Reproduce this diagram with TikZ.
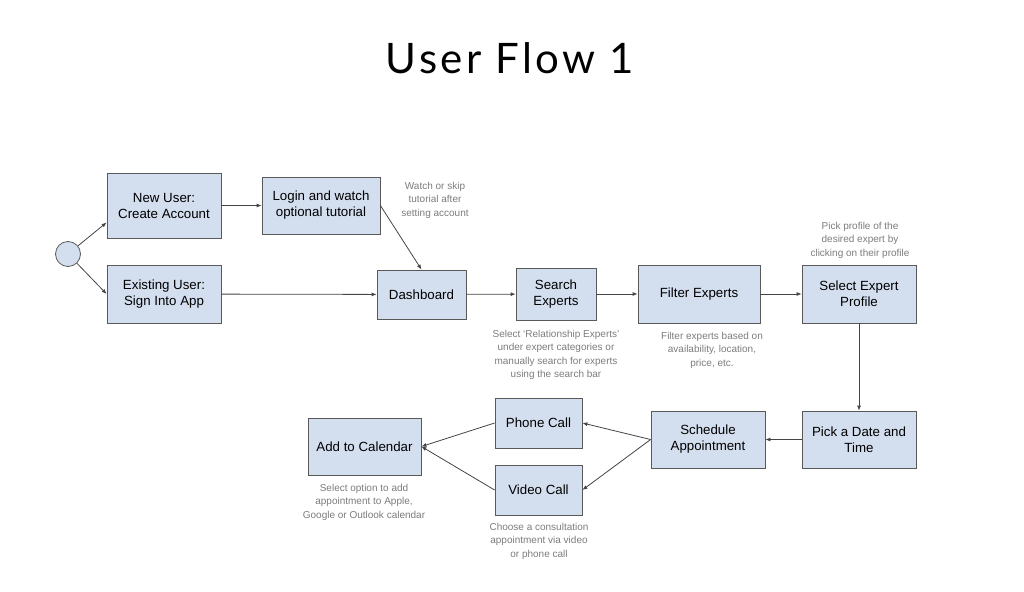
\documentclass[tikz,border=0pt]{standalone}
\usepackage{fontspec}
\setmainfont{Liberation Sans}
\newfontfamily\titlefont[LetterSpace=8]{Lato}
\usetikzlibrary{arrows.meta}
\definecolor{boxfill}{HTML}{D3DEEF}
\definecolor{boxline}{HTML}{595959}
\definecolor{notegray}{HTML}{7C7C7C}
\definecolor{linegray}{HTML}{444444}

\begin{document}
\begin{tikzpicture}
      [x=1pt,y=-1pt,every node/.style={align=center, font=\fontsize{13.3}{16}\selectfont},
       box/.style={draw=boxline, fill=boxfill, line width=0.8pt, inner sep=0pt, minimum width=114pt, minimum height=58pt},
       note/.style={text=notegray, font=\fontsize{10}{13.5}\selectfont},
       flow/.style={draw=linegray, line width=0.8pt, -{Latex[length=5pt,width=4pt]}}]
    \useasboundingbox (0,0) rectangle (1024,591);

    \node[font=\titlefont\fontsize{42}{48}\selectfont] (title) at (510,58) {User Flow 1};

    \node[circle, draw=boxline, fill=boxfill, line width=0.8pt, minimum size=25pt, inner sep=0pt] (start) at (68,254) {};
    \node[box, minimum height=65pt] (newuser) at (164,205.5) {New User:\\Create Account};
    \node[box, minimum width=118pt, minimum height=57pt] (login) at (321,205.5) {Login and watch\\optional tutorial};
    \node[box] (existing) at (164,294) {Existing User:\\Sign Into App};
    \node[box, minimum width=89pt, minimum height=49pt] (dashboard) at (421.5,294.5) {Dashboard};
    \node[box, minimum width=80pt, minimum height=52pt] (search) at (556,294) {Search\\Experts};
    \node[box, minimum width=122pt] (filter) at (699,294) {Filter Experts};
    \node[box] (select) at (859,294) {Select Expert\\Profile};
    \node[box, minimum height=57pt] (pick) at (859,439.5) {Pick a Date and\\Time};
    \node[box, minimum height=57pt] (schedule) at (708,439.5) {Schedule\\Appointment};
    \node[box, minimum width=87pt, minimum height=50pt] (phone) at (538.5,423) {Phone Call};
    \node[box, minimum width=87pt, minimum height=50pt] (video) at (538.5,490) {Video Call};
    \node[box, minimum width=113pt, minimum height=57pt] (calendar) at (364.5,446.5) {Add to Calendar};

    % notes
    \node[note] (loginnote) at (435,200) {Watch or skip\\tutorial after\\setting account};
    \node[note] (searchnote) at (556,355) {Select `Relationship Experts'\\under expert categories or\\manually search for experts\\using the search bar};
    \node[note] (filternote) at (712,350) {Filter experts based on\\availability, location,\\price, etc.};
    \node[note] (selectnote) at (860,240) {Pick profile of the\\desired expert by\\clicking on their profile};
    \node[note] (calendarnote) at (364,502) {Select option to add\\appointment to Apple,\\Google or Outlook calendar};
    \node[note] (callnote) at (539,541) {Choose a consultation\\appointment via video\\or phone call};

    \draw[flow] (start) -- ([yshift=-17pt]newuser.west);
    \foreach \from/\to in {start/existing.west, newuser/login, login.east/dashboard.north,
        existing/dashboard, dashboard/search, search/filter, filter/select, select/pick,
        pick/schedule, schedule.west/phone.east, schedule.west/video.east,
        phone.west/calendar.east, video.west/calendar.east}
      \draw[flow] (\from) -- (\to);
\end{tikzpicture}
\end{document}
